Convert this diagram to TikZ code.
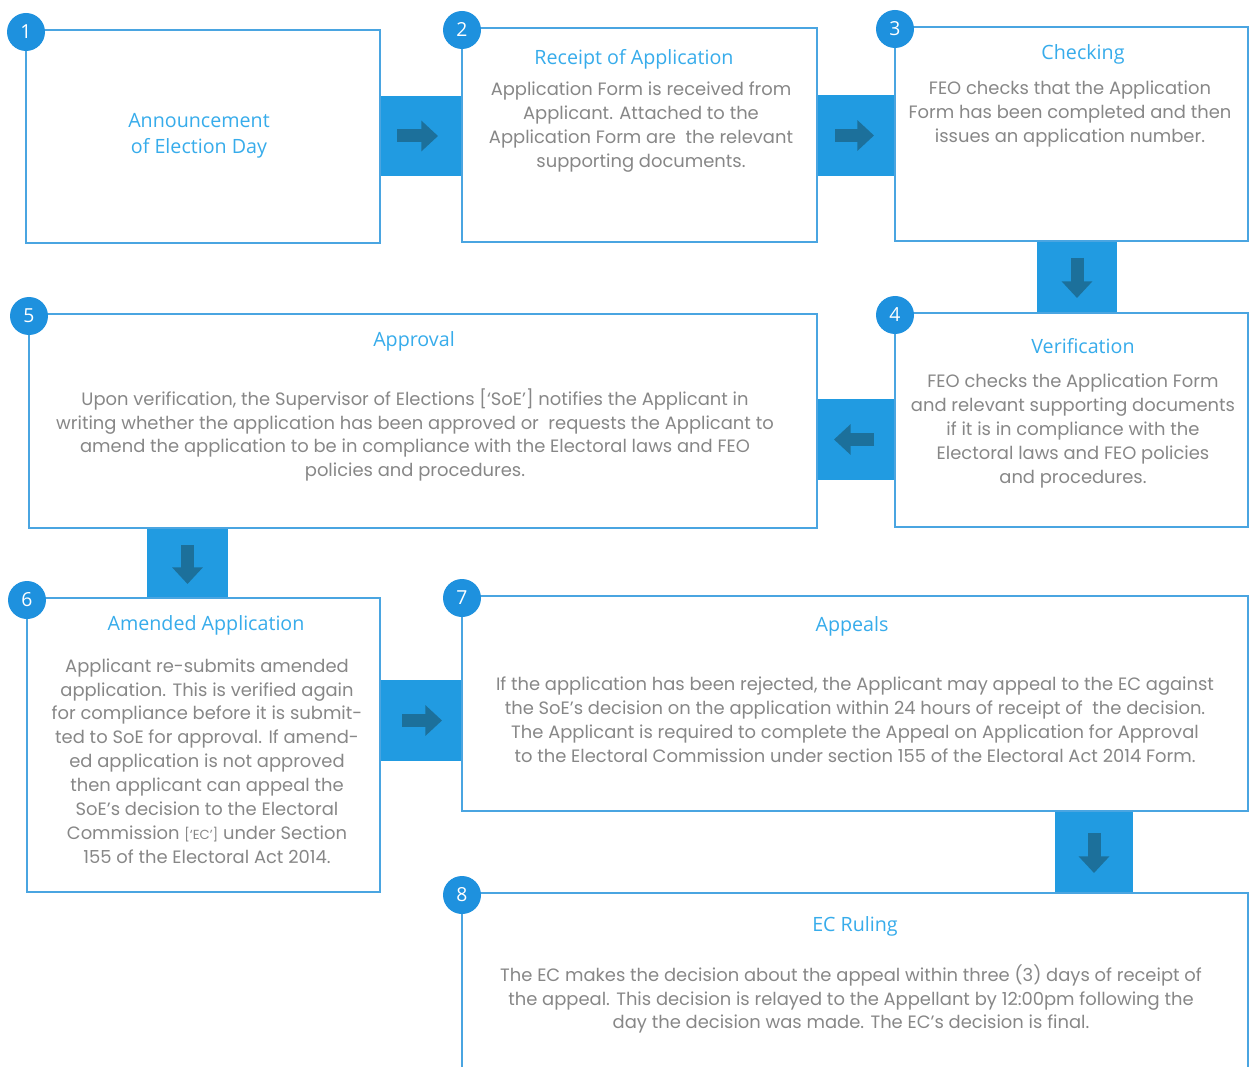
\documentclass[tikz,border=0pt]{standalone}
\usepackage{fontspec}
\setmainfont{Open Sans}
\newfontfamily\ttlfont{Open Sans}
\newfontfamily\bodyfont{Poppins}
\usetikzlibrary{arrows.meta,positioning}

\definecolor{boxblue}{RGB}{74,165,225}
\definecolor{linkblue}{RGB}{33,155,225}
\definecolor{arrowblue}{RGB}{28,112,155}
\definecolor{ttlblue}{RGB}{55,172,235}
\definecolor{numblue}{RGB}{30,145,222}
\definecolor{txtgray}{RGB}{135,135,135}

\newlength\px
\setlength\px{0.02cm}

\tikzset{
  stage/.style={draw=boxblue, line width=2\px, fill=white, inner sep=0pt},
  link/.style={fill=linkblue, inner sep=0pt},
  ttl/.style={text=ttlblue, align=center, font=\ttlfont\fontsize{11.2}{14.7}\selectfont},
  txt/.style={text=txtgray, align=center, font=\bodyfont\fontsize{10.2}{13.6}\selectfont},
  num/.style={circle, fill=numblue, text=white, minimum size=38\px, inner sep=0pt,
    font=\ttlfont\fontsize{11}{11}\selectfont},
  flow/.style={draw=arrowblue, line width=13\px, -{Triangle[width=17pt, length=9.5pt]}}
}

\begin{document}
\begin{tikzpicture}[x=0.02cm, y=-0.02cm]
\useasboundingbox (0,0) rectangle (1250,1067);

% links between the stages
\node[link, minimum width=88\px, minimum height=80\px] (k12) at (421,136) {};
\node[link, minimum width=84\px, minimum height=81\px] (k23) at (856,135.5) {};
\node[link, minimum width=80\px, minimum height=78\px] (k34) at (1077,277) {};
\node[link, minimum width=84\px, minimum height=81\px] (k45) at (856,439.5) {};
\node[link, minimum width=81\px, minimum height=76\px] (k56) at (187.5,563) {};
\node[link, minimum width=88\px, minimum height=81\px] (k67) at (421,720.5) {};
\node[link, minimum width=78\px, minimum height=88\px] (k78) at (1094,852) {};

% stages
\node[stage, minimum width=354\px, minimum height=213\px] (b1) at (203,136.5) {};
\node[stage, minimum width=355\px, minimum height=214\px] (b2) at (639.5,135) {};
\node[stage, minimum width=353\px, minimum height=214\px] (b3) at (1071.5,134) {};
\node[stage, minimum width=353\px, minimum height=214\px] (b4) at (1071.5,420) {};
\node[stage, minimum width=788\px, minimum height=214\px] (b5) at (423,421) {};
\node[stage, minimum width=353\px, minimum height=294\px] (b6) at (203.5,745) {};
\node[stage, minimum width=786\px, minimum height=215\px] (b7) at (855,703.5) {};
\node[stage, minimum width=786\px, minimum height=197\px] (b8) at (855,991.5) {};

% titles
\node[ttl] (t1) at (199,136) {Announcement\\of Election Day};
\node[ttl] (t2) at (634,59) {Receipt of Application};
\node[ttl] (t3) at (1083,54) {Checking};
\node[ttl] (t4) at (1083,346) {Verification};
\node[ttl] (t5) at (414,341) {Approval};
\node[ttl] (t6) at (206,625) {Amended Application};
\node[ttl] (t7) at (852,626) {Appeals};
\node[ttl] (t8) at (855,926) {EC Ruling};

% descriptions
\node[txt] (d2) at (641,127) {Application Form is received from\\Applicant. Attached to the\\Application Form are\ \ the relevant\\supporting documents.};
\node[txt] (d3) at (1070,114) {FEO checks that the Application\\Form has been completed and then\\issues an application number.};
\node[txt] (d4) at (1073,431) {FEO checks the Application Form\\and relevant supporting documents\\if it is in compliance with the\\Electoral laws and FEO policies\\and procedures.};
\node[txt] (d5) at (415,435) {Upon verification, the Supervisor of Elections [‘SoE’] notifies the Applicant in\\writing whether the application has been approved or\ \ requests the Applicant to\\amend the application to be in compliance with the Electoral laws and FEO\\policies and procedures.};
\node[txt] (d6) at (207,761) {Applicant re-submits amended\\application. This is verified again\\for compliance before it is submit-\\ted to SoE for approval. If amend-\\ed application is not approved\\then applicant can appeal the\\SoE’s decision to the Electoral\\Commission {\fontsize{7.5}{7.5}\selectfont[‘EC’]} under Section\\155 of the Electoral Act 2014.};
\node[txt] (d7) at (855,720) {If the application has been rejected, the Applicant may appeal to the EC against\\the SoE’s decision on the application within 24 hours of receipt of\ \ the decision.\\The Applicant is required to complete the Appeal on Application for Approval\\to the Electoral Commission under section 155 of the Electoral Act 2014 Form.};
\node[txt] (d8) at (851,999) {The EC makes the decision about the appeal within three (3) days of receipt of\\the appeal. This decision is relayed to the Appellant by 12:00pm following the\\day the decision was made. The EC’s decision is final.};

% step numbers
\foreach \i in {1,...,8}
  \node[num] (n\i) at ([xshift=1\px, yshift=-3\px]b\i.north west) {\i};

% arrows
\draw[flow] ([xshift=-24\px]k12.center) -- ([xshift=17\px]k12.center);
\draw[flow] ([xshift=-21\px]k23.center) -- ([xshift=18\px]k23.center);
\draw[flow] ([yshift=19\px]k34.center) -- ([yshift=-21\px]k34.center);
\draw[flow] ([xshift=18\px]k45.center) -- ([xshift=-22\px]k45.center);
\draw[flow] ([yshift=18\px]k56.center) -- ([yshift=-21\px]k56.center);
\draw[flow] ([xshift=-19\px]k67.center) -- ([xshift=21\px]k67.center);
\draw[flow] ([yshift=19\px]k78.center) -- ([yshift=-21\px]k78.center);
\end{tikzpicture}
\end{document}
